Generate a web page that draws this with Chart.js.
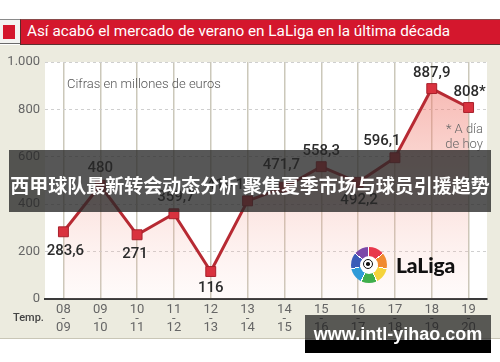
<!DOCTYPE html>
<html>
<head>
<meta charset="utf-8">
<script src="https://cdn.jsdelivr.net/npm/chart.js@4.4.1/dist/chart.umd.min.js"></script>
<style>
  html,body{margin:0;padding:0;background:#fff;}
  #wrap{position:relative;width:500px;height:362px;overflow:hidden;background:#fff;font-family:Roboto,"Noto Sans",sans-serif;}
  #beige{position:absolute;left:0;top:45px;width:500px;height:293px;background:#ecebdf;border-bottom:1px solid #c9c6b6;}
  #hdrBox{position:absolute;left:0;top:19px;width:20px;height:25px;background:#f3f3f1;border-top:1px solid #8a8a8a;border-bottom:1px solid #6a6a6a;box-sizing:border-box;}
  #hdrSq{position:absolute;left:3px;top:25px;width:12px;height:14px;background:#d4172d;}
  #hdr{position:absolute;left:20px;top:19px;width:480px;height:26px;background:#d4172d;border-left:1px solid #5a2a2a;border-top:1px solid #8a4a4a;border-bottom:1px solid #5a3030;box-sizing:border-box;color:#fff;font-size:15.3px;line-height:23px;padding-left:6px;white-space:nowrap;}
  canvas{position:absolute;left:0;top:0;}
  .txt{position:absolute;white-space:nowrap;}
  #note1{left:67px;top:76px;font-size:13px;color:#555;font-weight:300;}
  #note2{right:17px;top:121px;font-size:13px;color:#666;text-align:right;line-height:15px;font-weight:300;}
  #temp{left:13px;top:311px;font-size:11px;color:#444;font-weight:500;}
  #logo{position:absolute;left:351px;top:247px;width:36px;height:36px;border-radius:50%;
    background:conic-gradient(#e8384c 0deg 48deg,#fff 48deg 52deg,#f08a30 52deg 100deg,#fff 100deg 104deg,#f5d33a 104deg 152deg,#fff 152deg 156deg,#3fae4b 156deg 204deg,#fff 204deg 208deg,#2f9bd8 208deg 256deg,#fff 256deg 260deg,#3b5cb8 260deg 308deg,#fff 308deg 312deg,#7c48a8 312deg 356deg,#fff 356deg 360deg);}
  #logoIn{position:absolute;left:9px;top:9px;width:18px;height:18px;border-radius:50%;background:#fff;}
  #ball{position:absolute;left:3px;top:3px;width:10px;height:10px;border-radius:50%;background:#fff;border:1.5px solid #111;box-sizing:border-box;}
  #ballC{position:absolute;left:2px;top:2px;width:3.5px;height:3.5px;background:#111;border-radius:50%;}
  #laliga{left:396px;top:252px;font-family:Lato,Roboto,sans-serif;font-weight:900;font-size:21px;color:#111;letter-spacing:-0.1px;}
  #banner{position:absolute;left:9px;top:150px;width:482px;height:62px;background:rgba(40,40,40,0.78);color:#fff;font-family:"Noto Sans CJK SC",sans-serif;font-weight:700;font-size:19px;line-height:62px;text-align:center;white-space:nowrap;padding-top:4px;box-sizing:border-box;}
  #wm1{position:absolute;left:305px;top:315px;width:186px;height:25px;background:rgba(30,30,30,0.72);}
  #wm2{position:absolute;left:305px;top:340px;width:186px;height:13px;background:#000;}
  #wmt{left:305px;width:186px;top:324px;text-align:center;font-family:"Liberation Sans",Arial,sans-serif;font-weight:700;font-size:18px;color:#fff;}
</style>
</head>
<body>
<div id="wrap">
  <div id="beige"></div>
  <div id="hdrBox"></div>
  <div id="hdrSq"></div>
  <div id="hdr">Así acabó el mercado de verano en LaLiga en la última década</div>
  <canvas id="c" width="500" height="362"></canvas>
  <div class="txt" id="note1">Cifras en millones de euros</div>
  <div class="txt" id="note2">* A día<br>de hoy</div>
  <div class="txt" id="temp">Temp.</div>
  <div id="logo"><div id="logoIn"><div id="ball"><div id="ballC"></div></div></div></div>
  <div class="txt" id="laliga">LaLiga</div>
  <div id="banner">西甲球队最新转会动态分析 聚焦夏季市场与球员引援趋势</div>
  <div id="wm1"></div>
  <div id="wm2"></div>
  <div class="txt" id="wmt">www.intl-yihao.com</div>
</div>
<script>
// ---- data ----
const seasonStart = ["08","09","10","11","12","13","14","15","16","17","18","19"];
const seasonEnd   = ["09","10","11","12","13","14","15","16","17","18","19","20"];
const spending    = [283.6, 480, 271, 359.7, 116, 414.1, 471.7, 558.3, 492.2, 596.1, 887.9, 808];
const yTicks      = [0, 200, 400, 600, 800, 1000];
const yTickLabels = ["0", "200", "400", "600", "800", "1.000"];

// label placement (style only): [dx, dy]
const labelOffsets = [[2,19],[0,-17],[-2,19],[2,-17],[0,17],[-22,-16],[-3,-22],[0,-15],[1,18],[-13,-16],[0,-15],[1,-15]];

const labels = seasonStart.map((s,i)=>[s,"-",seasonEnd[i]]);
const valueLabel = (v,i)=> String(v).replace('.',',') + (i===spending.length-1 ? '*' : '');

const plotBg = {
  id:'plotBg',
  beforeDraw(chart){
    const {ctx, chartArea:a} = chart;
    ctx.save(); ctx.fillStyle='#ffffff';
    ctx.fillRect(a.left, a.top, a.right-a.left, a.bottom-a.top);
    ctx.restore();
  }
};
const dataLabels = {
  id:'dataLabels',
  afterDatasetsDraw(chart){
    const {ctx} = chart;
    const meta = chart.getDatasetMeta(0);
    ctx.save();
    ctx.font = '500 15px Roboto';
    ctx.fillStyle = '#2b2b2b';
    ctx.textAlign='center'; ctx.textBaseline='middle';
    meta.data.forEach((p,i)=>{
      const o = labelOffsets[i];
      ctx.fillText(valueLabel(spending[i], i), p.x + o[0], p.y + o[1]);
    });
    ctx.restore();
  }
};

new Chart(document.getElementById('c'), {
  type:'line',
  data:{
    labels: labels,
    datasets:[{
      data: spending,
      borderColor:'#b72a33',
      borderWidth:3,
      pointStyle:'rect',
      pointRadius:7,
      pointBackgroundColor:'#d9323e',
      pointBorderColor:'#a8202b',
      pointBorderWidth:1,
      tension:0,
      fill:'origin',
      backgroundColor:(ctx)=>{
        const a = ctx.chart.chartArea;
        if(!a) return 'rgba(240,140,130,0.3)';
        const g = ctx.chart.ctx.createLinearGradient(0, a.top, 0, a.bottom);
        g.addColorStop(0, 'rgba(238,110,100,0.55)');
        g.addColorStop(0.5, 'rgba(242,140,125,0.30)');
        g.addColorStop(1, 'rgba(250,200,190,0.08)');
        return g;
      }
    }]
  },
  options:{
    responsive:false,
    animation:false,
    devicePixelRatio:1,
    layout:{padding:{left:0,right:13,top:62,bottom:24}},
    plugins:{legend:{display:false},tooltip:{enabled:false}},
    scales:{
      x:{
        offset:true,
        grid:{display:true,drawTicks:false,color:'#cbc8ba',lineWidth:1.5,offset:false},
        border:{display:true,color:'#3a3a3a',width:2},
        ticks:{color:'#666',font:{family:'Roboto',size:13,lineHeight:0.7},padding:6,maxRotation:0,autoSkip:false},
        afterFit(s){ s.height = 39; }
      },
      y:{
        min:0,max:1000,
        afterBuildTicks(s){ s.ticks = yTicks.map(v=>({value:v})); },
        grid:{drawTicks:false,color:'#cfcfcf',lineWidth:1},
        border:{display:false,dash:[3,3]},
        ticks:{color:'#666',font:{family:'Roboto',size:13},padding:5,
          callback:(v)=>{ const k=yTicks.indexOf(v); return k>=0?yTickLabels[k]:''; }},
        afterFit(s){ s.width = 45; }
      }
    }
  },
  plugins:[plotBg, dataLabels]
});
</script>
</body>
</html>
